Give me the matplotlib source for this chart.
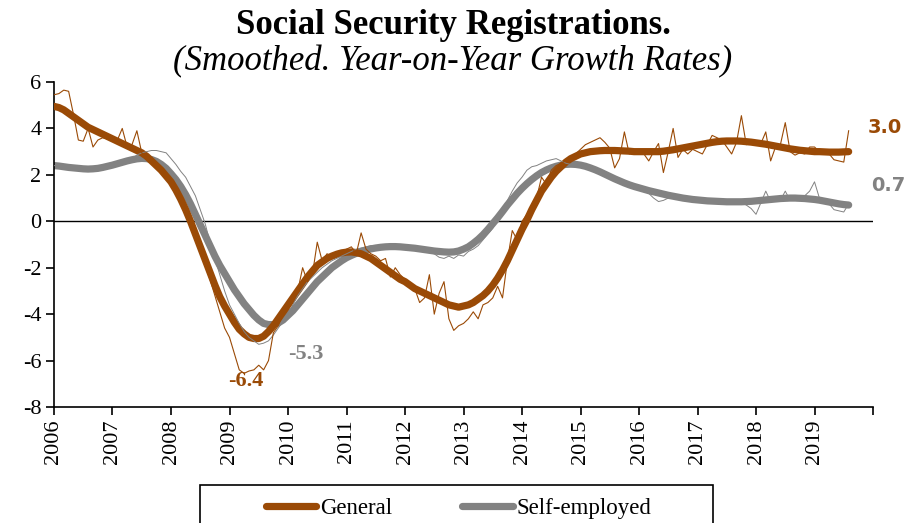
import numpy as np
import matplotlib
matplotlib.use("Agg")
import matplotlib.pyplot as plt
from matplotlib.patches import Rectangle

# DATA (monthly, Jan 2006 - Aug 2019, year-on-year % growth)

START_YEAR = 2006

general_smooth = [
    4.95, 4.90, 4.80, 4.65, 4.50, 4.35, 4.20, 4.05, 3.95, 3.85, 3.75, 3.65,   # 2006
    3.55, 3.45, 3.35, 3.25, 3.15, 3.05, 2.95, 2.80, 2.60, 2.40, 2.20, 1.95,   # 2007
    1.70, 1.35, 0.95, 0.50, 0.00, -0.55, -1.10, -1.65, -2.20, -2.75, -3.25, -3.65,  # 2008
    -4.00, -4.35, -4.65, -4.85, -5.00, -5.05, -5.05, -4.95, -4.75, -4.50, -4.20, -3.90,  # 2009
    -3.60, -3.30, -3.00, -2.70, -2.40, -2.15, -1.90, -1.75, -1.60, -1.50, -1.42, -1.36,  # 2010
    -1.33, -1.32, -1.35, -1.40, -1.50, -1.60, -1.75, -1.90, -2.05, -2.20, -2.35, -2.50,  # 2011
    -2.60, -2.75, -2.90, -3.00, -3.10, -3.20, -3.30, -3.40, -3.50, -3.60, -3.65, -3.70,  # 2012
    -3.65, -3.60, -3.50, -3.35, -3.20, -3.00, -2.75, -2.45, -2.10, -1.70, -1.25, -0.80,  # 2013
    -0.35, 0.05, 0.50, 0.90, 1.30, 1.60, 1.90, 2.15, 2.35, 2.55, 2.70, 2.80,   # 2014
    2.90, 2.95, 3.00, 3.02, 3.04, 3.05, 3.05, 3.05, 3.04, 3.03, 3.02, 3.00,   # 2015
    3.00, 3.00, 3.00, 3.00, 3.00, 3.02, 3.05, 3.08, 3.12, 3.16, 3.20, 3.24,   # 2016
    3.28, 3.32, 3.36, 3.40, 3.43, 3.45, 3.46, 3.46, 3.46, 3.45, 3.43, 3.41,   # 2017
    3.38, 3.35, 3.32, 3.28, 3.24, 3.20, 3.16, 3.12, 3.09, 3.06, 3.04, 3.02,   # 2018
    3.00, 3.00, 2.99, 2.98, 2.98, 2.98, 2.99, 3.00,                           # 2019
]

general_raw = [
    5.45, 5.50, 5.65, 5.60, 4.60, 3.50, 3.45, 4.00, 3.20, 3.50, 3.60, 3.55,
    3.60, 3.50, 4.00, 3.20, 3.30, 3.90, 2.95, 2.80, 2.60, 2.40, 2.10, 1.90,
    1.60, 1.30, 0.90, 0.40, 0.00, -0.60, -1.30, -1.90, -2.50, -3.20, -3.90, -4.60,
    -5.00, -5.70, -6.40, -6.55, -6.45, -6.40, -6.20, -6.40, -6.00, -4.80, -4.50, -4.00,
    -3.80, -3.30, -3.00, -2.00, -2.60, -2.30, -0.90, -1.70, -1.40, -1.50, -1.30, -1.30,
    -1.20, -1.10, -1.40, -0.50, -1.20, -1.40, -1.50, -1.70, -1.60, -2.40, -2.00, -2.30,
    -2.50, -2.70, -2.90, -3.50, -3.30, -2.30, -4.00, -3.10, -2.60, -4.20, -4.70, -4.50,
    -4.40, -4.20, -3.90, -4.20, -3.60, -3.50, -3.30, -2.80, -3.30, -1.70, -0.40, -0.80,
    0.00, 0.30, 0.60, 1.00, 1.90, 1.60, 2.20, 2.40, 2.50, 2.60, 2.70, 2.90,
    3.10, 3.30, 3.40, 3.50, 3.60, 3.40, 3.15, 2.30, 2.70, 3.85, 2.90, 3.00,
    3.00, 2.90, 2.60, 3.00, 3.35, 2.10, 3.00, 4.00, 2.75, 3.10, 2.90, 3.10,
    3.00, 2.90, 3.30, 3.70, 3.60, 3.50, 3.20, 2.90, 3.40, 4.55, 3.30, 3.40,
    3.45, 3.35, 3.85, 2.60, 3.20, 3.30, 4.25, 3.00, 2.85, 2.95, 2.90, 3.20,
    3.20, 3.00, 3.05, 2.90, 2.65, 2.60, 2.55, 3.90,
]

selfemp_smooth = [
    2.40, 2.38, 2.35, 2.32, 2.30, 2.28, 2.26, 2.25, 2.26, 2.28, 2.32, 2.37,   # 2006
    2.42, 2.48, 2.54, 2.60, 2.65, 2.69, 2.71, 2.70, 2.66, 2.58, 2.45, 2.28,   # 2007
    2.05, 1.80, 1.50, 1.15, 0.75, 0.30, -0.15, -0.60, -1.05, -1.50, -1.90, -2.25,  # 2008
    -2.60, -2.95, -3.25, -3.55, -3.80, -4.05, -4.25, -4.40, -4.45, -4.45, -4.38, -4.25,  # 2009
    -4.05, -3.85, -3.60, -3.35, -3.10, -2.85, -2.60, -2.40, -2.20, -2.00, -1.85, -1.70,  # 2010
    -1.57, -1.47, -1.38, -1.30, -1.24, -1.19, -1.15, -1.12, -1.10, -1.09, -1.09, -1.10,  # 2011
    -1.12, -1.14, -1.16, -1.19, -1.22, -1.25, -1.28, -1.30, -1.32, -1.33, -1.32, -1.28,  # 2012
    -1.20, -1.10, -0.95, -0.78, -0.58, -0.35, -0.10, 0.15, 0.42, 0.70, 0.95, 1.20,  # 2013
    1.42, 1.62, 1.80, 1.96, 2.10, 2.21, 2.30, 2.37, 2.42, 2.45, 2.46, 2.45,   # 2014
    2.42, 2.37, 2.30, 2.22, 2.13, 2.03, 1.93, 1.83, 1.74, 1.65, 1.57, 1.50,   # 2015
    1.44, 1.38, 1.32, 1.27, 1.22, 1.17, 1.12, 1.08, 1.04, 1.00, 0.97, 0.94,   # 2016
    0.92, 0.90, 0.88, 0.87, 0.86, 0.85, 0.84, 0.84, 0.84, 0.84, 0.85, 0.86,   # 2017
    0.88, 0.90, 0.92, 0.94, 0.96, 0.98, 0.99, 1.00, 1.00, 0.99, 0.98, 0.96,   # 2018
    0.94, 0.91, 0.87, 0.83, 0.79, 0.75, 0.72, 0.70,                           # 2019
]

selfemp_raw = [
    2.40, 2.38, 2.35, 2.32, 2.30, 2.28, 2.26, 2.25, 2.26, 2.28, 2.32, 2.37,
    2.45, 2.50, 2.55, 2.62, 2.70, 2.85, 2.95, 3.00, 3.05, 3.05, 3.00, 2.95,
    2.70, 2.45, 2.15, 1.90, 1.50, 1.10, 0.50, -0.10, -0.90, -1.60, -2.30, -3.00,
    -3.60, -4.00, -4.40, -4.75, -5.00, -5.15, -5.30, -5.25, -5.15, -4.90, -4.60, -4.30,
    -4.00, -3.60, -3.20, -2.90, -2.60, -2.40, -2.20, -2.00, -1.85, -1.70, -1.60, -1.50,
    -1.40, -1.30, -1.20, -1.15, -1.10, -1.05, -1.05, -1.05, -1.10, -1.10, -1.15, -1.15,
    -1.15, -1.20, -1.20, -1.25, -1.30, -1.35, -1.40, -1.55, -1.60, -1.50, -1.60, -1.45,
    -1.50, -1.30, -1.20, -1.05, -0.80, -0.55, -0.30, 0.10, 0.50, 0.90, 1.30, 1.65,
    1.90, 2.20, 2.35, 2.40, 2.50, 2.60, 2.65, 2.70, 2.60, 2.50, 2.45, 2.45,
    2.45, 2.40, 2.35, 2.25, 2.15, 2.05, 1.95, 1.85, 1.75, 1.65, 1.55, 1.45,
    1.40, 1.30, 1.20, 1.00, 0.85, 0.90, 1.00, 1.05, 1.00, 0.95, 0.95, 0.90,
    0.90, 0.95, 0.85, 0.80, 0.85, 0.80, 0.85, 0.80, 0.75, 0.80, 0.70, 0.55,
    0.30, 0.80, 1.30, 0.85, 1.00, 0.90, 1.30, 0.90, 1.00, 1.00, 1.10, 1.30,
    1.70, 1.00, 0.90, 0.75, 0.50, 0.45, 0.40, 0.75,
]

years = list(range(2006, 2021))
year_labels = [str(y) for y in range(2006, 2020)] + [""]
yticks = [-8, -6, -4, -2, 0, 2, 4, 6]

BROWN = "#9A4A06"
GREY = "#828282"

plt.rcParams["font.family"] = ["Liberation Serif", "DejaVu Serif"]

x = START_YEAR + np.arange(len(general_smooth)) / 12.0

fig = plt.figure(figsize=(9.06, 5.23), dpi=100)
ax = fig.add_axes([0.0596, 0.2218, 0.904, 0.6214])

ax.axhline(0, color="black", lw=1.0, zorder=1)

ax.plot(x, selfemp_smooth, color=GREY, lw=5.2, solid_capstyle="round", label="Self-employed", zorder=2)
ax.plot(x, general_smooth, color=BROWN, lw=5.2, solid_capstyle="round", label="General", zorder=3)
ax.plot(x, selfemp_raw, color=GREY, lw=0.7, zorder=4)
ax.plot(x, general_raw, color=BROWN, lw=0.8, zorder=5)

ax.set_xlim(2006, 2020)
ax.set_ylim(-8, 6)
ax.set_xticks(years)
ax.set_xticklabels(year_labels, rotation=90, fontsize=16)
ax.set_yticks(yticks)
ax.set_yticklabels([str(v) for v in yticks], fontsize=16)
ax.tick_params(axis="both", direction="out", length=6, width=1.2, color="black", pad=3)
for s in ["top", "right"]:
    ax.spines[s].set_visible(False)
for s in ["left", "bottom"]:
    ax.spines[s].set_linewidth(1.2)

# end / trough labels
ax.text(2020.2, 4.05, "3.0", color=BROWN, fontsize=14, fontweight="bold",
        family="DejaVu Sans", ha="center", va="center", clip_on=False)
ax.text(2020.26, 1.55, "0.7", color=GREY, fontsize=14, fontweight="bold",
        family="DejaVu Sans", ha="center", va="center", clip_on=False)
ax.text(2009.27, -6.9, "-6.4", color=BROWN, fontsize=16, fontweight="bold",
        ha="center", va="center")
ax.text(2010.31, -5.72, "-5.3", color=GREY, fontsize=16, fontweight="bold",
        ha="center", va="center")

fig.text(0.5, 1 - 25 / 523, "Social Security Registrations.", ha="center", va="center",
         fontsize=25, fontweight="bold")
fig.text(0.5, 1 - 62 / 523, "(Smoothed. Year-on-Year Growth Rates)", ha="center", va="center",
         fontsize=25, style="italic")

# legend box (cut by the bottom edge, like the original)
fig.patches.append(Rectangle((200 / 906, -0.05), 513 / 906, 0.05 + (523 - 485) / 523,
                             transform=fig.transFigure, fill=False, ec="black", lw=1.2))
handles, labels = ax.get_legend_handles_labels()
fig.legend(handles[::-1], labels[::-1], loc="center left",
           bbox_to_anchor=(266 / 906, 1 - 508 / 523), ncol=2, frameon=False,
           fontsize=16.5, handlelength=2.2, handletextpad=0.17, columnspacing=3.05,
           borderpad=0, borderaxespad=0)

fig.savefig("out.png", dpi=100)
